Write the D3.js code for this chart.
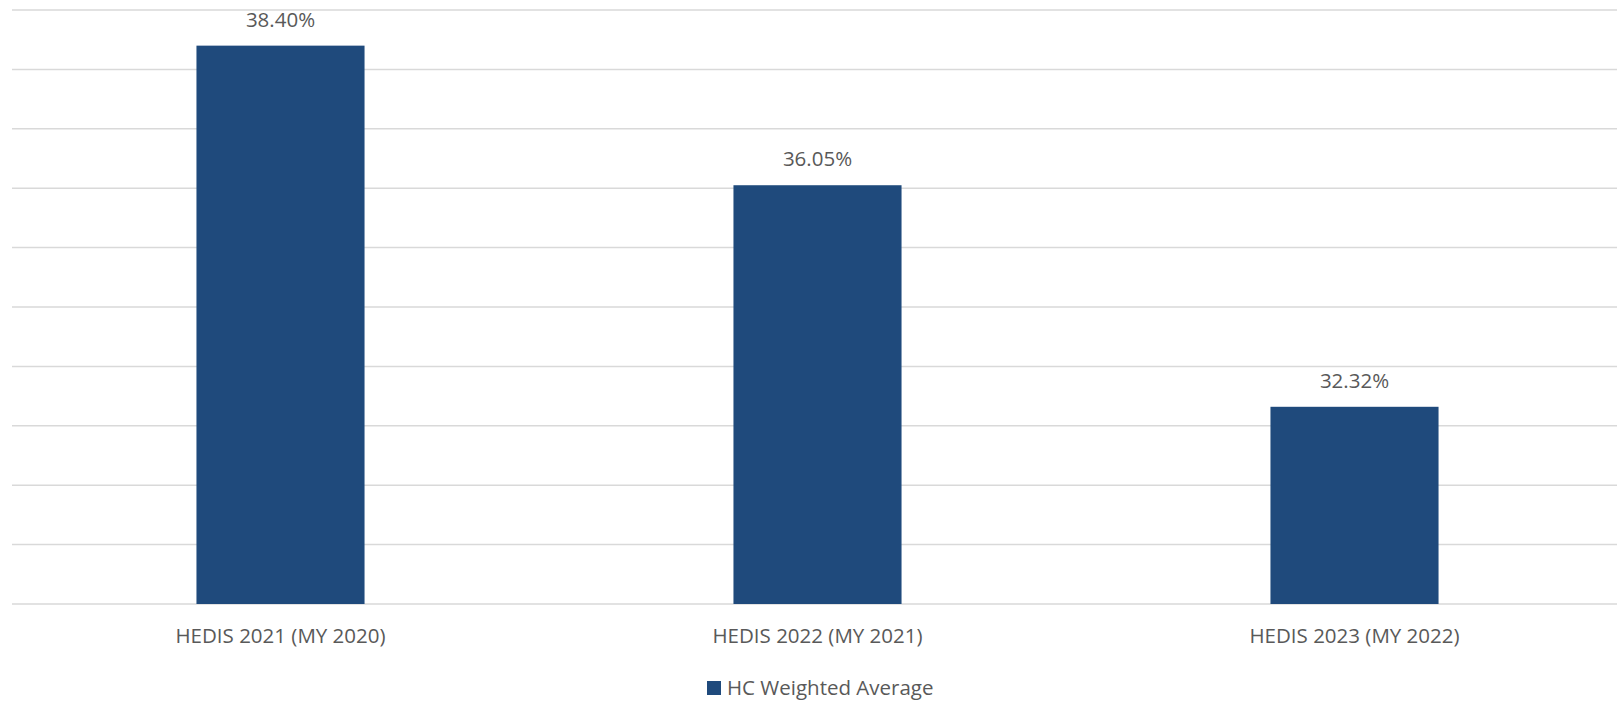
<!DOCTYPE html>
<html><head><meta charset="utf-8">
<script src="https://cdn.jsdelivr.net/npm/d3@7"></script>
<style>html,body{margin:0;padding:0;background:#fff;}svg{display:block;}</style>
</head><body>
<script>
const categories = ["HEDIS 2021 (MY 2020)", "HEDIS 2022 (MY 2021)", "HEDIS 2023 (MY 2022)"];
const values = [38.40, 36.05, 32.32];
const valueLabels = ["38.40%", "36.05%", "32.32%"];
const seriesName = "HC Weighted Average";
const yTicks = [29, 30, 31, 32, 33, 34, 35, 36, 37, 38, 39];

const W = 1617, H = 701;
const svg = d3.select("body").append("svg").attr("width", W).attr("height", H);
const font = "'Open Sans', sans-serif";
const textColor = "#595959";
const barColor = "#1f4a7c";

const x = d3.scaleBand().domain(categories).range([12, 1623]).paddingInner(0.687).paddingOuter(0.3435);
const y = d3.scaleLinear().domain([29, 39]).range([604, 10]);

// gridlines
svg.append("g").selectAll("line").data(yTicks).join("line")
  .attr("x1", 12).attr("x2", W)
  .attr("y1", d => y(d)).attr("y2", d => y(d))
  .attr("stroke", "#d9d9d9").attr("stroke-width", 1.5);

// bars
svg.append("g").selectAll("rect").data(values).join("rect")
  .attr("x", (d, i) => x(categories[i]))
  .attr("width", x.bandwidth())
  .attr("y", d => y(d))
  .attr("height", d => y(29) - y(d))
  .attr("fill", barColor);

// value labels
svg.append("g").selectAll("text").data(values).join("text")
  .attr("x", (d, i) => x(categories[i]) + x.bandwidth() / 2)
  .attr("y", d => y(d) - 19)
  .attr("text-anchor", "middle")
  .attr("font-family", font).attr("font-size", 20.5).attr("fill", textColor)
  .text((d, i) => valueLabels[i]);

// x axis labels
const xAxis = d3.axisBottom(x).tickSize(0).tickPadding(0);
const gx = svg.append("g").attr("transform", `translate(0,${y(29)})`).call(xAxis);
gx.select(".domain").remove();
gx.selectAll("text").attr("font-family", font).attr("font-size", 20.5).attr("fill", textColor)
  .attr("dy", null).attr("y", 39);

// legend
const lg = svg.append("g");
lg.append("rect").attr("x", 707).attr("y", 681).attr("width", 14).attr("height", 14).attr("fill", barColor);
lg.append("text").attr("x", 727).attr("y", 695).attr("font-family", font).attr("font-size", 20.5)
  .attr("fill", textColor).text(seriesName);
</script>
</body></html>
